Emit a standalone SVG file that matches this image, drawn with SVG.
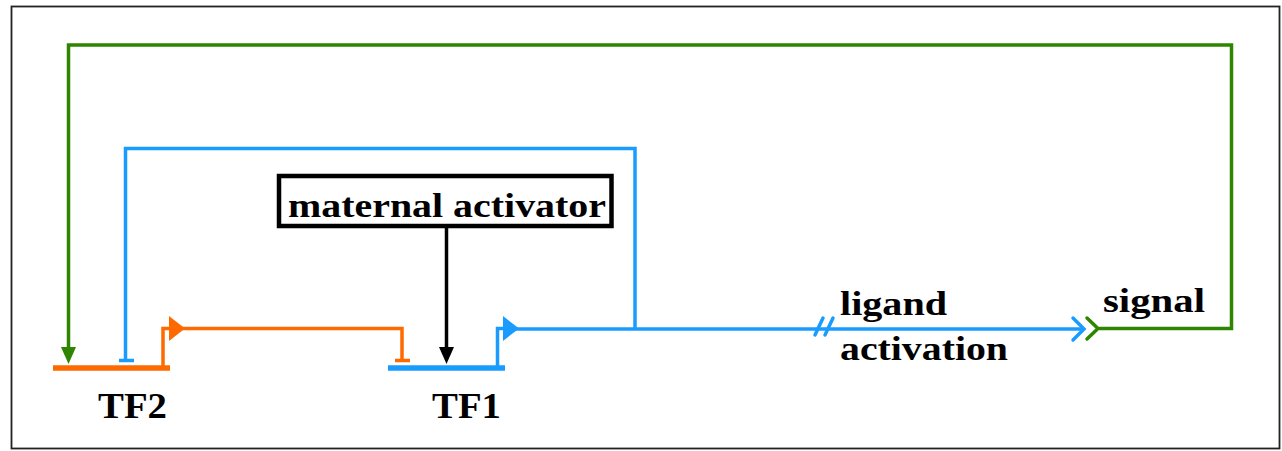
<svg xmlns="http://www.w3.org/2000/svg" width="1282" height="451" viewBox="0 0 1282 451">
<style>
.t{font-family:'Liberation Serif',Times,'Times New Roman',serif;font-weight:700;fill:#000}
.g{stroke:#2e8500;stroke-width:3.5;fill:none}
.b{stroke:#1a9cff;stroke-width:3.5;fill:none}
.o{stroke:#ff6a00;stroke-width:3.5;fill:none}
</style>
<rect x="0" y="0" width="1282" height="451" fill="#fff"/>
<rect x="11.5" y="6.5" width="1268" height="442" fill="none" stroke="#222" stroke-width="1.8"/>
<g id="connectors">
  <polyline class="g" points="1099,328.5 1231.5,328.5 1231.5,45 68.5,45 68.5,350"/>
  <polygon points="61,347 76,347 68.5,364" fill="#2e8500"/>
  <polyline class="g" points="1087,318 1098,328.5 1087,339" stroke-linecap="round"/>
  <polyline class="b" points="635,329 635,148.5 125.5,148.5 125.5,360.5"/>
  <line x1="119" y1="360.5" x2="134" y2="360.5" class="b"/>
  <line x1="515" y1="329" x2="1084" y2="329" class="b"/>
  <line x1="815" y1="335" x2="823" y2="318" class="b" stroke-linecap="round"/>
  <line x1="825" y1="335" x2="833" y2="318" class="b" stroke-linecap="round"/>
  <polyline class="b" points="1073,318 1084,329 1073,340" stroke-linecap="round"/>
  <polyline class="o" points="182,328.5 402,328.5 402,360.5"/>
  <line x1="395" y1="360.5" x2="410" y2="360.5" class="o"/>
  <line x1="446.5" y1="228" x2="446.5" y2="350" stroke="#000" stroke-width="3.5"/>
  <polygon points="439,347 454,347 446.5,364" fill="#000"/>
</g>
<g id="TF2">
  <line x1="53" y1="368" x2="170" y2="368" stroke="#ff6a00" stroke-width="5.5"/>
  <polyline class="o" points="163,368 163,328.5 171,328.5" stroke-width="4.5"/>
  <polygon points="169,316 169,341 185,328.5" fill="#ff6a00"/>
  <text class="t" font-family="Liberation Serif" x="98" y="418" font-size="35" textLength="69" lengthAdjust="spacingAndGlyphs">TF2</text>
</g>
<g id="TF1">
  <line x1="388" y1="368" x2="505" y2="368" stroke="#1a9cff" stroke-width="5.5"/>
  <polyline class="b" points="497.5,368 497.5,328.5 505,328.5" stroke-width="4.5"/>
  <polygon points="503,316 503,341 519,328.5" fill="#1a9cff"/>
  <text class="t" font-family="Liberation Serif" x="432" y="418" font-size="35" textLength="69" lengthAdjust="spacingAndGlyphs">TF1</text>
</g>
<g id="maternal-activator">
  <rect x="279" y="176" width="332.5" height="50" fill="#fff" stroke="#000" stroke-width="4.5"/>
  <text class="t" font-family="Liberation Serif" x="288" y="216.5" font-size="33" textLength="318" lengthAdjust="spacingAndGlyphs">maternal activator</text>
</g>
<g id="ligand-activation">
  <text class="t" font-family="Liberation Serif" x="840" y="315" font-size="33" textLength="107" lengthAdjust="spacingAndGlyphs">ligand</text>
  <text class="t" font-family="Liberation Serif" x="840" y="360" font-size="33" textLength="168" lengthAdjust="spacingAndGlyphs">activation</text>
</g>
<g id="signal">
  <text class="t" font-family="Liberation Serif" x="1103" y="312" font-size="33" textLength="102" lengthAdjust="spacingAndGlyphs">signal</text>
</g>
</svg>
